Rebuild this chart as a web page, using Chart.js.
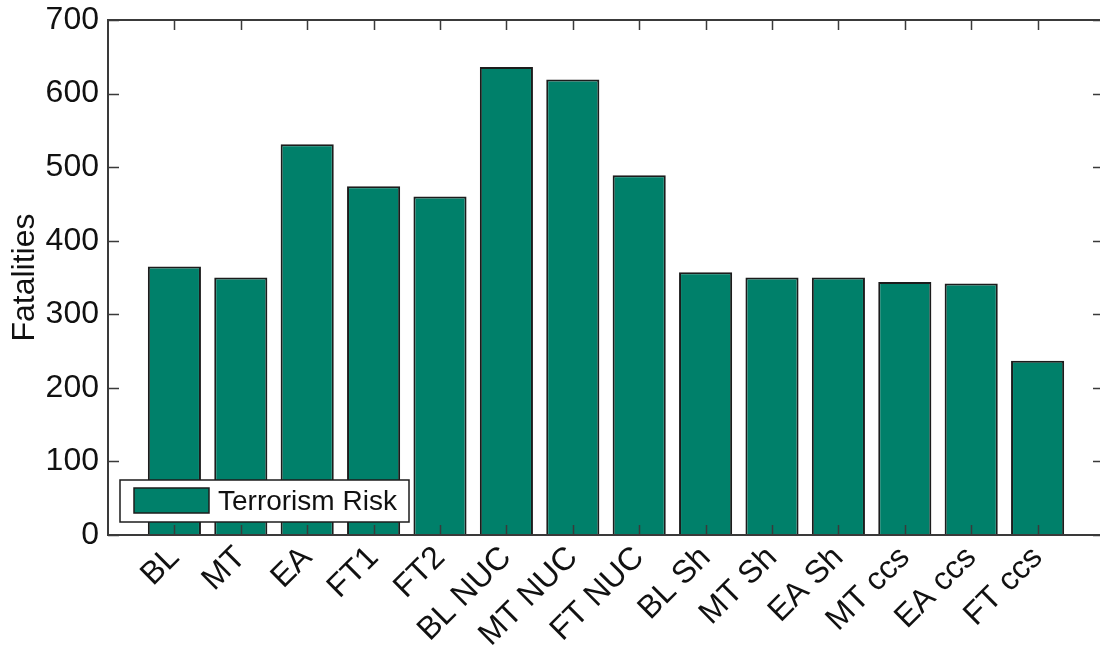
<!DOCTYPE html>
<html lang="en">
<head>
  <meta charset="UTF-8" />
  <title>Terrorism Risk</title>
  <script src="https://cdn.jsdelivr.net/npm/chart.js"></script>
  <style>
    * {
      margin: 0;
      padding: 0;
      box-sizing: border-box;
    }
    html, body {
      background: #fff;
      overflow: hidden;
    }
    .quadro {
      width: 1110px;
      height: 654px;
    }
  </style>
</head>
<body>
  <div class="quadro">
    <canvas id="grafico"></canvas>
  </div>

  <script>
    // scenarios on the x axis
    const categories = ['BL', 'MT', 'EA', 'FT1', 'FT2', 'BL NUC', 'MT NUC', 'FT NUC',
      'BL Sh', 'MT Sh', 'EA Sh', 'MT ccs', 'EA ccs', 'FT ccs'];
    // fatalities per scenario
    const fatalities = [365, 350, 531, 474, 460, 636, 619, 489, 357, 350, 350, 344, 342, 237];
    const yTicks = [0, 100, 200, 300, 400, 500, 600, 700];
    const seriesName = 'Terrorism Risk';

    const verde = '#00806a';
    const contorno = '#1c1c1c';
    const eixo = '#3a3a3a';
    const fonte = "'Liberation Sans', Arial, sans-serif";

    // box, inward ticks and in-plot legend (matlab style)
    const moldura = {
      id: 'moldura',
      afterDraw(chart) {
        const { ctx, chartArea: a, scales } = chart;
        const x = scales.x, y = scales.y;
        ctx.save();
        ctx.strokeStyle = eixo;
        ctx.lineWidth = 1.5;
        ctx.beginPath();
        categories.forEach((c, i) => {
          const px = Math.round(x.getPixelForValue(i + 1)) + 0.5;
          ctx.moveTo(px, a.top);
          ctx.lineTo(px, a.top + 10);
          ctx.moveTo(px, a.bottom);
          ctx.lineTo(px, a.bottom - 10);
        });
        yTicks.forEach(v => {
          const py = Math.round(y.getPixelForValue(v)) + 0.5;
          ctx.moveTo(a.left, py);
          ctx.lineTo(a.left + 11, py);
          ctx.moveTo(a.right, py);
          ctx.lineTo(a.right - 11, py);
        });
        ctx.stroke();
        ctx.lineWidth = 2;
        ctx.strokeRect(a.left, a.top, a.right - a.left, a.bottom - a.top);

        // legend
        const ds = chart.data.datasets[0];
        ctx.fillStyle = '#fff';
        ctx.fillRect(120, 480, 289, 42);
        ctx.strokeStyle = contorno;
        ctx.lineWidth = 1.5;
        ctx.strokeRect(120, 480, 289, 42);
        ctx.fillStyle = ds.backgroundColor;
        ctx.fillRect(134, 488, 75, 25);
        ctx.strokeRect(134, 488, 75, 25);
        ctx.fillStyle = '#111';
        ctx.font = '28px ' + fonte;
        ctx.textBaseline = 'middle';
        ctx.textAlign = 'left';
        ctx.fillText(ds.label, 218, 502);
        ctx.restore();
      }
    };

    new Chart(document.getElementById('grafico'), {
      type: 'bar',
      data: {
        datasets: [{
          label: seriesName,
          data: categories.map((c, i) => ({ x: i + 1, y: fatalities[i] })),
          backgroundColor: verde,
          borderColor: contorno,
          borderWidth: 2,
          categoryPercentage: 1,
          barPercentage: 0.8
        }]
      },
      options: {
        responsive: true,
        maintainAspectRatio: false,
        animation: false,
        layout: { padding: { top: 20, right: 6, left: 0, bottom: 0 } },
        plugins: {
          legend: { display: false },
          tooltip: { enabled: false }
        },
        scales: {
          x: {
            type: 'linear',
            offset: false,
            min: 0,
            max: 15,
            grid: { display: false, drawTicks: false },
            border: { display: false },
            afterFit(scale) {
              scale.height = 119;
              scale.paddingLeft = 0;
              scale.paddingRight = 0;
            },
            ticks: {
              stepSize: 1,
              autoSkip: false,
              minRotation: 45,
              maxRotation: 45,
              padding: 4,
              color: '#111',
              font: { family: fonte, size: 32 },
              callback: v => categories[v - 1] || ''
            }
          },
          y: {
            min: 0,
            max: 700,
            grid: { display: false, drawTicks: false },
            border: { display: false },
            afterFit(scale) {
              scale.width = 108;
              scale.paddingTop = 0;
              scale.paddingBottom = 0;
            },
            ticks: {
              stepSize: 100,
              padding: 9,
              color: '#111',
              font: { family: fonte, size: 32 }
            },
            title: {
              display: true,
              text: 'Fatalities',
              color: '#111',
              font: { family: fonte, size: 32 },
              padding: { top: 6, bottom: 0 }
            }
          }
        }
      },
      plugins: [moldura]
    });
  </script>
</body>
</html>
